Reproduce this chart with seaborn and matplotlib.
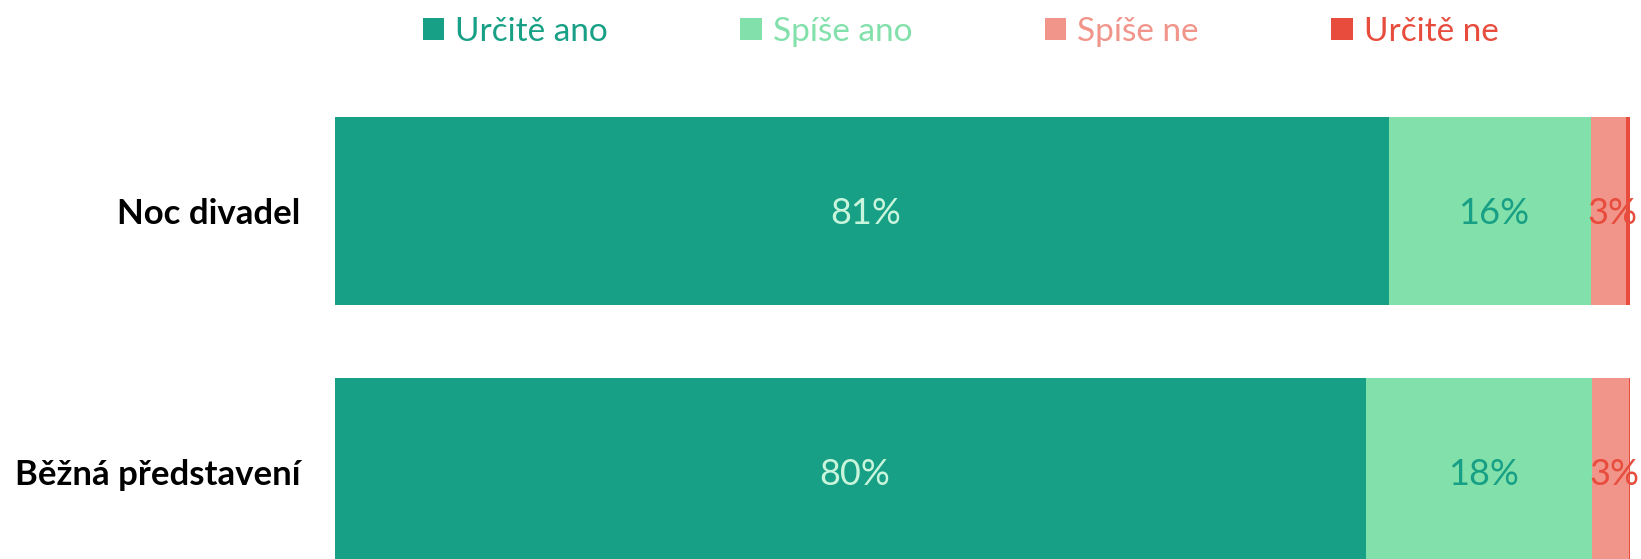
import matplotlib
matplotlib.use("Agg")
import matplotlib.pyplot as plt
from matplotlib.patches import Patch
import seaborn as sns
import pandas as pd
import numpy as np

categories = ["Noc divadel", "Běžná představení"]
series = ["Určitě ano", "Spíše ano", "Spíše ne", "Určitě ne"]
urcite_ano = [81.4, 79.6]
spise_ano = [15.6, 17.5]
spise_ne = [2.7, 2.8]
urcite_ne = [0.3, 0.1]

colors = ["#17a085", "#82e0aa", "#f1948a", "#e74c3c"]
label_colors = ["#c8f5dc", "#17a085", "#e74c3c", "#e74c3c"]

sns.set_theme(style="white")
plt.rcParams['font.family'] = ['Lato', 'DejaVu Sans']

W, H = 1641, 559
fig = plt.figure(figsize=(W / 100, H / 100), dpi=100)
left_px, right_px = 335, 1630
top_px = 80.5
ax = fig.add_axes([left_px / W, 0, (right_px - left_px) / W, (H - top_px) / H])

vals = np.array([urcite_ano, spise_ano, spise_ne, urcite_ne])  # series x cats
cum = np.cumsum(vals, axis=0)

for i in reversed(range(len(series))):
    df = pd.DataFrame({"cat": categories, "v": cum[i]})
    sns.barplot(data=df, x="v", y="cat", orient="h", color=colors[i],
                saturation=1, width=0.717, ax=ax, edgecolor="none", linewidth=0)

starts = cum - vals
for i in range(len(series)):
    for j in range(len(categories)):
        v = vals[i, j]
        if v >= 1:
            ax.text(starts[i, j] + v / 2 + 0.3, j + 0.01, f"{round(v)}%", ha="center", va="center",
                    color=label_colors[i], fontsize=26)

ax.set_xlim(0, 100)
ax.set_ylim(1.333, -0.5)
ax.set_xlabel("")
ax.set_ylabel("")
ax.set_xticks([])
for s in ax.spines.values():
    s.set_visible(False)
ax.tick_params(axis="y", length=0, pad=25)
for t in ax.get_yticklabels():
    t.set_fontweight("bold")
    t.set_fontsize(25)
    t.set_color("black")

handles = [Patch(facecolor=c, edgecolor="none") for c in colors]
leg = fig.legend(handles, series, loc="center", bbox_to_anchor=(0.5853, 1 - 32 / H),
                 ncol=4, frameon=False, fontsize=24, handlelength=0.64, handleheight=0.62,
                 handletextpad=0.33, columnspacing=3.98, borderpad=0, borderaxespad=0)
for t, c in zip(leg.get_texts(), colors):
    t.set_color(c)

fig.savefig("out.png", dpi=100)
